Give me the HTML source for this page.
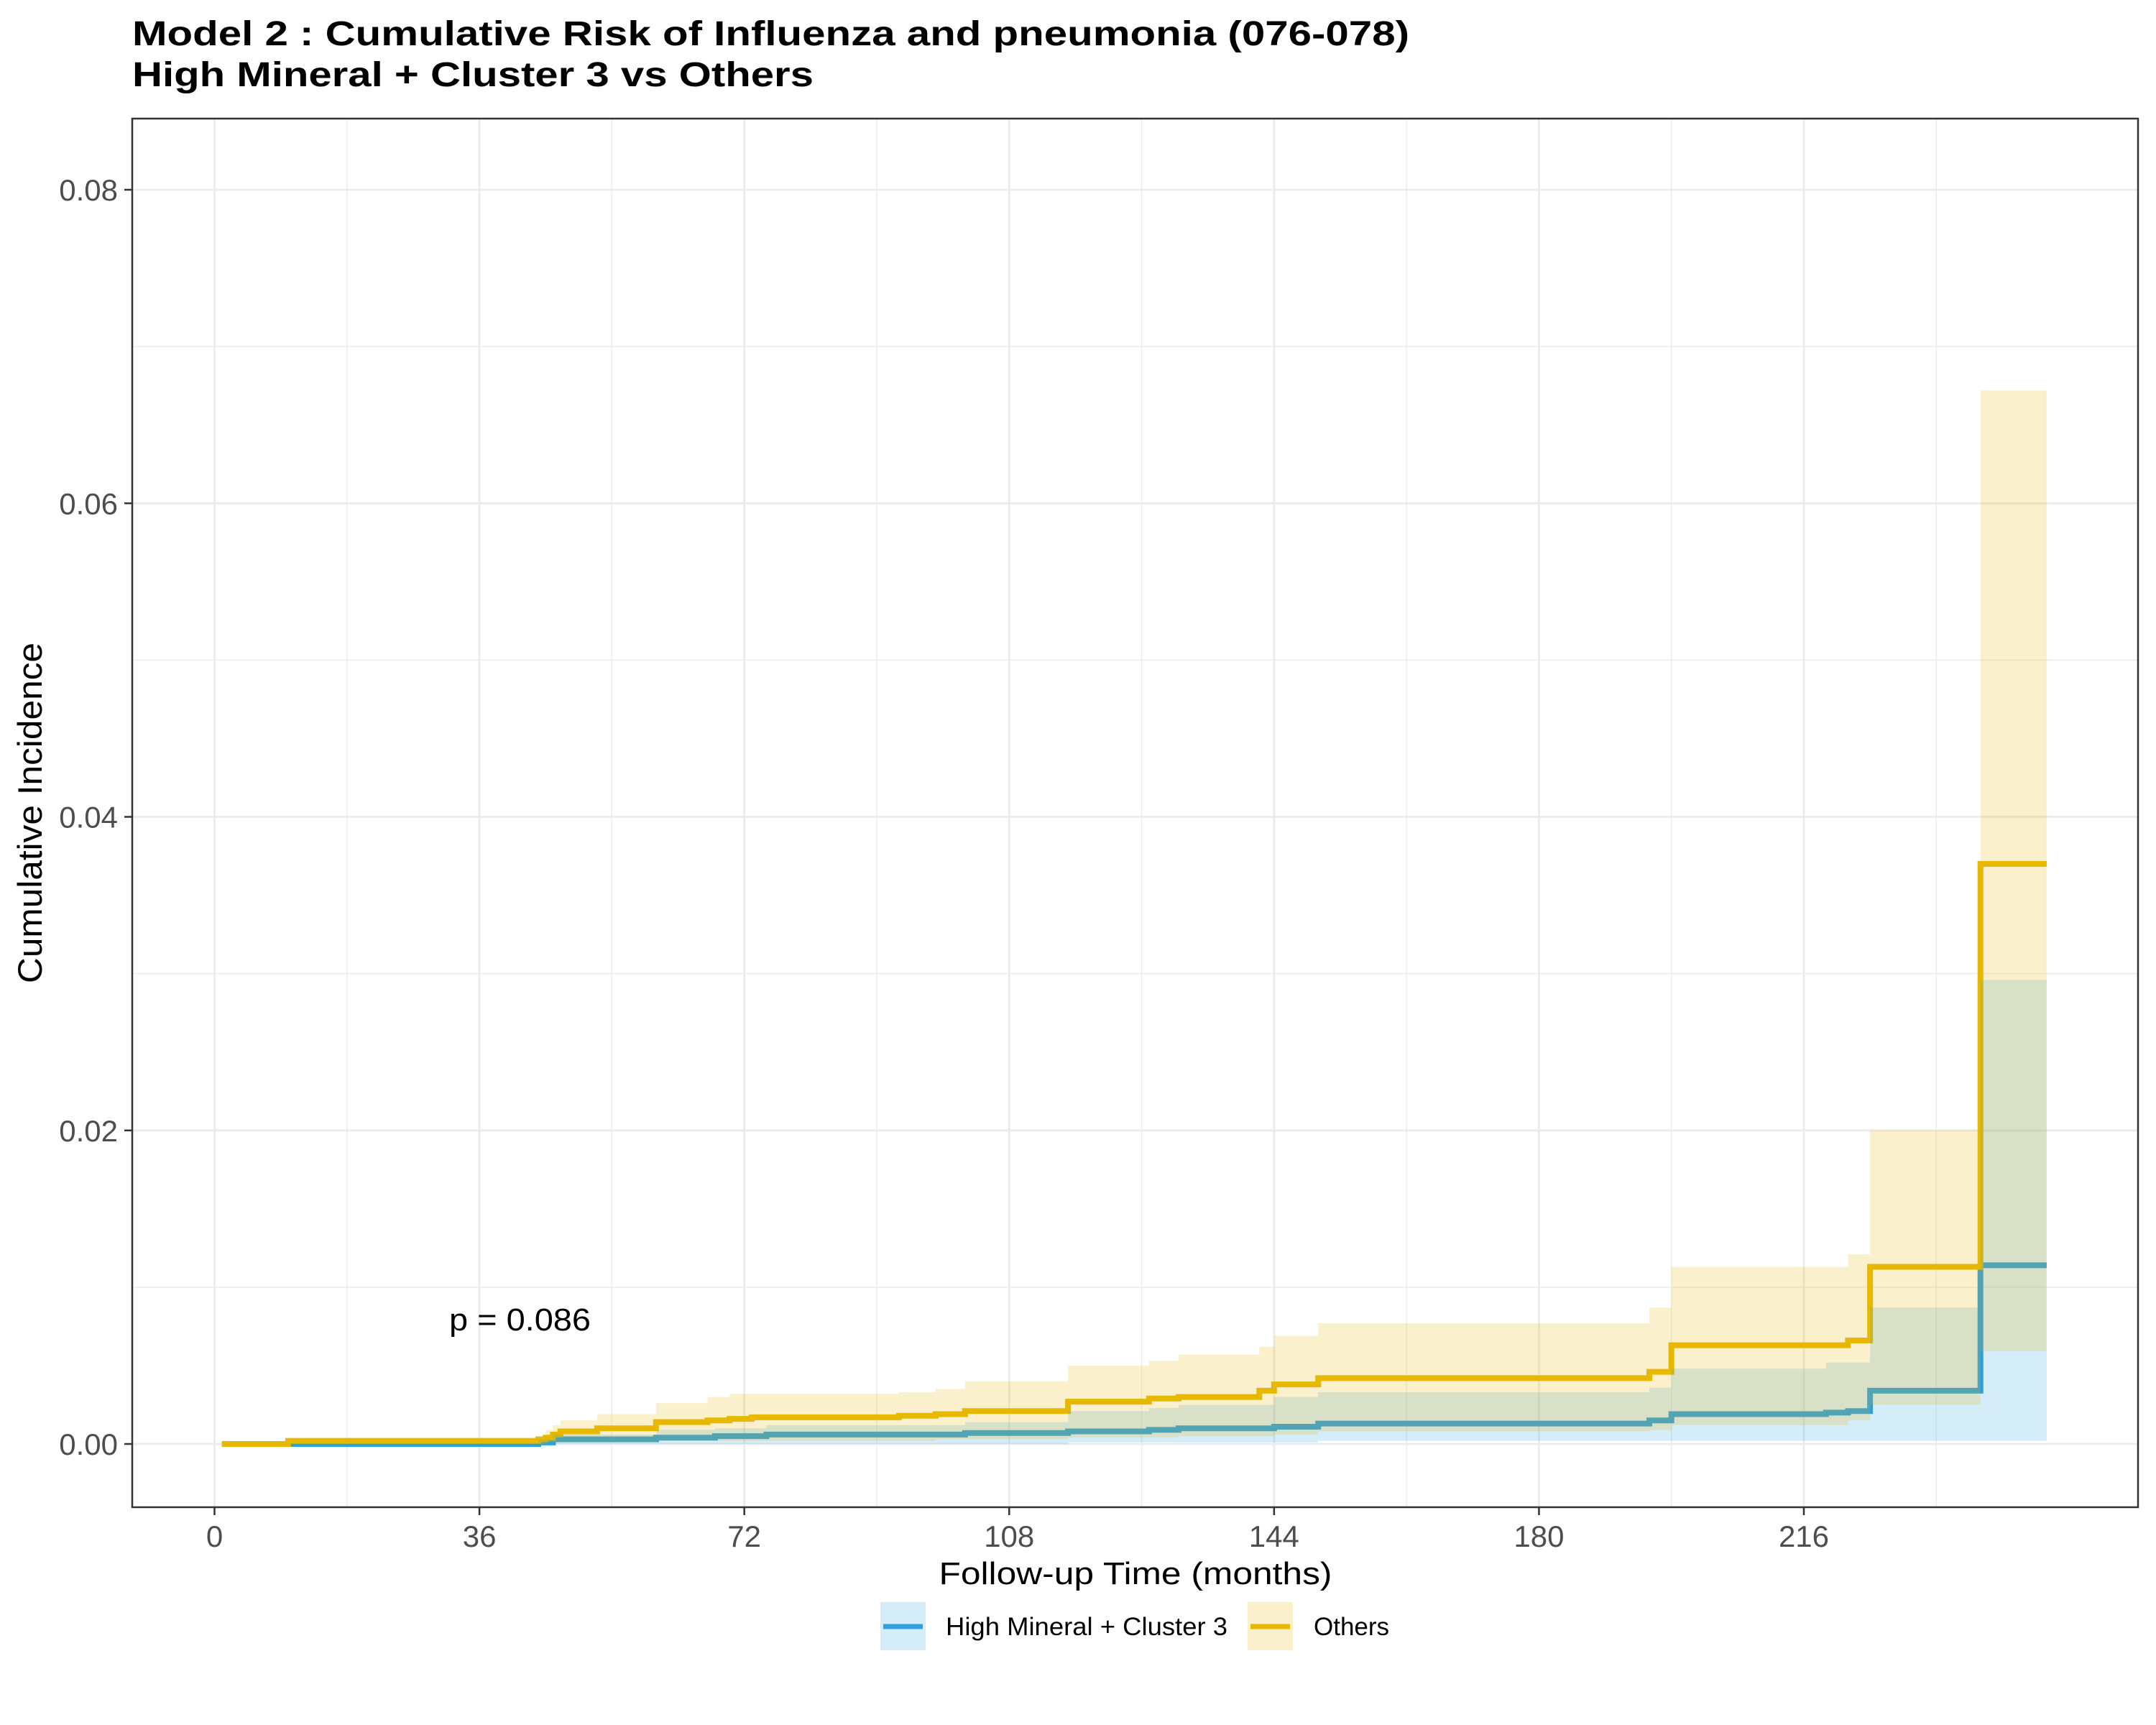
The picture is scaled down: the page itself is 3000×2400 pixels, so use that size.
<!DOCTYPE html>
<html><head><meta charset="utf-8"><style>
html,body{margin:0;padding:0;background:#fff;}
svg{display:block;font-family:"Liberation Sans",Arial,sans-serif;}
</style></head><body>
<svg id="chart" width="3000" height="2400" viewBox="0 0 3000 2400" xmlns="http://www.w3.org/2000/svg">
<rect x="0" y="0" width="3000" height="2400" fill="#fff"/>
<text x="184" y="63" font-size="48" font-weight="bold" fill="#000" textLength="1777" lengthAdjust="spacingAndGlyphs">Model 2 : Cumulative Risk of Influenza and pneumonia (076-078)</text>
<text x="184" y="120" font-size="48" font-weight="bold" fill="#000" textLength="948" lengthAdjust="spacingAndGlyphs">High Mineral + Cluster 3 vs Others</text>
<g id="grid"></g>
<g id="lines"></g>
<g id="ribbons"></g>
<rect x="184" y="165" width="2791" height="1932" fill="none" stroke="#333" stroke-width="2.5"/>
<g id="axes"></g>
<text x="625" y="1851" font-size="44" fill="#000" textLength="197" lengthAdjust="spacingAndGlyphs">p = 0.086</text>
<text x="1580" y="2204" font-size="44" fill="#000" text-anchor="middle" textLength="547" lengthAdjust="spacingAndGlyphs">Follow-up Time (months)</text>
<text transform="translate(58,1131) rotate(-90)" font-size="47" fill="#000" text-anchor="middle" textLength="474" lengthAdjust="spacingAndGlyphs">Cumulative Incidence</text>
<g>
  <g>
    <rect x="1225" y="2229" width="63" height="67" fill="#2E9FDF" fill-opacity="0.2"/>
    <line x1="1229" y1="2263" x2="1284" y2="2263" stroke="#2E9FDF" stroke-width="7"/>
    <text x="1316" y="2275" font-size="35" fill="#000" textLength="392" lengthAdjust="spacingAndGlyphs">High Mineral + Cluster 3</text>
  </g>
  <g>
    <rect x="1736" y="2229" width="63" height="67" fill="#E7B800" fill-opacity="0.2"/>
    <line x1="1740" y1="2263" x2="1795" y2="2263" stroke="#E7B800" stroke-width="7"/>
    <text x="1828" y="2275" font-size="35" fill="#000">Others</text>
  </g>
</g>
</svg>
<script>
// ---- data ----
const xTicks = [0, 36, 72, 108, 144, 180, 216];
const xMinor = [18, 54, 90, 126, 162, 198, 234];
const yTicks = [0, 0.02, 0.04, 0.06, 0.08];
const yTickLabels = ["0.00", "0.02", "0.04", "0.06", "0.08"];
const yMinor = [0.01, 0.03, 0.05, 0.07];
const endTime = 249;

const othersTime = [1, 10, 44, 45, 46, 47, 52, 60, 67, 70, 73, 93, 98, 102, 116, 127, 131, 142, 144, 150, 195, 198, 222, 225, 240];
const othersEst  = [0, 0.0002, 0.0003, 0.0004, 0.0006, 0.0008, 0.001, 0.0014, 0.0015, 0.0016, 0.0017, 0.0018, 0.0019, 0.0021, 0.0027, 0.0029, 0.003, 0.0034, 0.0038, 0.0042, 0.0046, 0.0063, 0.0066, 0.0113, 0.037];
const othersHi   = [0, 0.0003, 0.0004, 0.0009, 0.0012, 0.0015, 0.0019, 0.0026, 0.003, 0.0032, 0.0032, 0.0033, 0.0035, 0.004, 0.005, 0.0053, 0.0057, 0.0062, 0.0069, 0.0077, 0.0087, 0.0113, 0.0121, 0.02, 0.0672];
const othersLo   = [0, 0, 0, 0.0001, 0.0001, 0.0001, 0.0001, 0.0002, 0.0002, 0.0002, 0.0002, 0.0002, 0.0003, 0.0003, 0.0004, 0.0004, 0.0005, 0.0005, 0.0006, 0.0008, 0.0009, 0.0012, 0.0015, 0.0025, 0.0059];

const hmcTime = [1, 42, 44, 46, 60, 68, 75, 102, 116, 127, 131, 144, 150, 195, 198, 219, 222, 225, 240];
const hmcEst  = [0, 0, 0.0001, 0.0003, 0.0004, 0.0005, 0.0006, 0.0007, 0.0008, 0.0009, 0.001, 0.0011, 0.0013, 0.0015, 0.0019, 0.002, 0.0021, 0.0034, 0.0114];
const hmcHi   = [0, 0, 0.0003, 0.0006, 0.0009, 0.001, 0.0012, 0.0014, 0.0021, 0.0023, 0.0025, 0.003, 0.0033, 0.0036, 0.0048, 0.0052, 0.0052, 0.0087, 0.0296];
const hmcLo   = [0, 0, 0, 0, 0, 0, 0, 0, 0.0001, 0.0001, 0.0001, 0.0001, 0.0002, 0.0002, 0.0002, 0.0002, 0.0002, 0.0002, 0.0002];

// ---- scales ----
const PL = 184, PR = 2975, PT = 165, PB = 2097;
const xScale = m => 298.5 + m * (2510 - 298.5) / 216;
const yScale = v => 2009 - v * (2009 - 264) / 0.08;
const NS = "http://www.w3.org/2000/svg";
function mk(tag, attrs, parent) {
  const el = document.createElementNS(NS, tag);
  for (const k in attrs) el.setAttribute(k, attrs[k]);
  parent.appendChild(el);
  return el;
}
const grid = document.getElementById('grid');
const axes = document.getElementById('axes');
const lines = document.getElementById('lines');
const ribbons = document.getElementById('ribbons');

yMinor.forEach(v => {
  const l = mk('line', {x1: PL, x2: PR, y1: yScale(v), y2: yScale(v), stroke: '#ebebeb', 'stroke-width': 1.4}, grid);
  
  
});
xMinor.forEach(m => {
  const l = mk('line', {x1: xScale(m), x2: xScale(m), y1: PT, y2: PB, stroke: '#ebebeb', 'stroke-width': 1.4}, grid);
  
  
});
yTicks.forEach((v, i) => {
  const l = mk('line', {x1: PL, x2: PR, y1: yScale(v), y2: yScale(v), stroke: '#ebebeb', 'stroke-width': 2.8}, grid);
  
  
  const t = mk('line', {x1: PL - 11, x2: PL, y1: yScale(v), y2: yScale(v), stroke: '#333', 'stroke-width': 2.5}, axes);
  
  
  const tx = mk('text', {x: PL - 20, y: yScale(v) + 15, 'font-size': 42, fill: '#4d4d4d', 'text-anchor': 'end'}, axes);
  tx.textContent = yTickLabels[i];
  
  
});
xTicks.forEach(m => {
  const l = mk('line', {x1: xScale(m), x2: xScale(m), y1: PT, y2: PB, stroke: '#ebebeb', 'stroke-width': 2.8}, grid);
  
  
  const t = mk('line', {x1: xScale(m), x2: xScale(m), y1: PB, y2: PB + 11, stroke: '#333', 'stroke-width': 2.5}, axes);
  
  
  const tx = mk('text', {x: xScale(m), y: PB + 55, 'font-size': 42, fill: '#4d4d4d', 'text-anchor': 'middle'}, axes);
  tx.textContent = String(m);
  
  
});

function stepPts(times, vals) {
  const pts = [];
  for (let i = 0; i < times.length; i++) {
    const x = xScale(times[i]);
    if (i > 0) pts.push([x, yScale(vals[i - 1])]);
    pts.push([x, yScale(vals[i])]);
  }
  pts.push([xScale(endTime), yScale(vals[vals.length - 1])]);
  return pts;
}
function drawSeries(times, est, lo, hi, color, name) {
  const line = mk('polyline', {points: stepPts(times, est).map(p => p.join(',')).join(' '), fill: 'none', stroke: color, 'stroke-width': 8, 'stroke-linejoin': 'miter'}, lines);
  
  
  const up = stepPts(times, hi);
  const dn = stepPts(times, lo).reverse();
  const rib = mk('polygon', {points: up.concat(dn).map(p => p.join(',')).join(' '), fill: color, 'fill-opacity': 0.2, stroke: 'none'}, ribbons);
  
  
}
drawSeries(hmcTime, hmcEst, hmcLo, hmcHi, '#2E9FDF', 'high-mineral');
drawSeries(othersTime, othersEst, othersLo, othersHi, '#E7B800', 'others');
</script>
</body></html>
